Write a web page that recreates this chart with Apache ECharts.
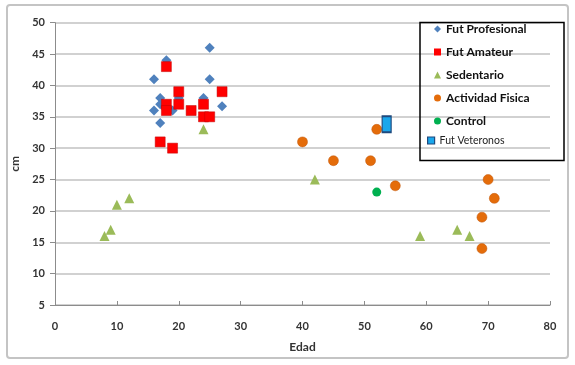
<!DOCTYPE html>
<html>
<head>
<meta charset="utf-8">
<script src="https://cdn.jsdelivr.net/npm/echarts@6/dist/echarts.min.js"></script>
<style>html,body{margin:0;padding:0;background:#fff;}#c{width:575px;height:365px;}</style>
</head>
<body>
<div id="c"></div>
<script>
var xTicks = [0, 10, 20, 30, 40, 50, 60, 70, 80];
var yTicks = [5, 10, 15, 20, 25, 30, 35, 40, 45, 50];
var seriesNames = ['Fut Profesional', 'Fut Amateur', 'Sedentario', 'Actividad Fisica', 'Control', 'Fut Veteronos'];
var futProfesional = [[25,46],[18,44],[16,41],[25,41],[17,38],[17,37],[16,36],[19,36],[24,38],[27,36.7],[17,34],[20,38]];
var futAmateur = [[18,43],[20,39],[20,37],[18,37],[18,36],[22,36],[24,37],[24,35],[25,35],[27,39],[17,31],[19,30]];
var sedentario = [[24,33],[12,22],[10,21],[9,17],[8,16],[42,25],[59,16],[65,17],[67,16]];
var actividadFisica = [[40,31],[52,33],[45,28],[51,28],[55,24],[70,25],[71,22],[69,19],[69,14]];
var control = [[52,23]];
var futVeteronos = [[53.6,33.8]];

var chart = echarts.init(document.getElementById('c'), null, {renderer: 'canvas'});
var font = 'Lato, "Open Sans", sans-serif';
var option = {
  animation: false,
  backgroundColor: '#fff',
  textStyle: {fontFamily: font},
  graphic: [
    {type: 'rect', shape: {x: 7, y: 5, width: 561, height: 353, r: 3}, style: {fill: 'none', stroke: '#c4c4c4', lineWidth: 2}, z: -1},
    {type: 'rect', shape: {x: 420, y: 22.5, width: 144, height: 138}, style: {fill: 'none', stroke: '#000', lineWidth: 1.5}, z: 100}
  ],
  grid: {left: 55, right: 25, top: 22.7, bottom: 60},
  xAxis: {
    type: 'value', min: xTicks[0], max: xTicks[xTicks.length-1], interval: 10,
    name: 'Edad', nameLocation: 'middle', nameGap: 36,
    nameTextStyle: {fontSize: 12, fontWeight: 'bold', color: '#333', fontFamily: font},
    axisLine: {show: true, lineStyle: {color: '#8c8c8c', width: 1}},
    axisTick: {show: true, inside: true, length: 4, lineStyle: {color: '#8c8c8c'}},
    axisLabel: {fontSize: 11, fontWeight: 'bold', color: '#333', margin: 16, fontFamily: font},
    splitLine: {show: false}
  },
  yAxis: {
    type: 'value', min: yTicks[0], max: yTicks[yTicks.length-1], interval: 5,
    name: 'cm', nameLocation: 'middle', nameGap: 22, nameRotate: 90,
    nameTextStyle: {fontSize: 12, fontWeight: 'bold', color: '#333', fontFamily: font},
    axisLine: {show: true, lineStyle: {color: '#8c8c8c', width: 1}},
    axisTick: {show: true, length: 5, lineStyle: {color: '#8c8c8c'}},
    axisLabel: {fontSize: 11, fontWeight: 'bold', color: '#333', margin: 10, fontFamily: font},
    splitLine: {show: true, lineStyle: {color: '#c2c2c2', width: 1.5}}
  },
  legend: [
    {
      orient: 'vertical', left: 434, top: 22, padding: 0, itemGap: 9, itemWidth: 7, itemHeight: 7,
      itemStyle: {borderWidth: 0},
      textStyle: {fontSize: 12, fontWeight: 'bold', color: '#111', lineHeight: 14, fontFamily: font},
      data: [
        {name: seriesNames[0], icon: 'diamond'},
        {name: seriesNames[1], icon: 'rect'},
        {name: seriesNames[2], icon: 'triangle'},
        {name: seriesNames[3], icon: 'circle'},
        {name: seriesNames[4], icon: 'circle'}
      ]
    },
    {
      orient: 'vertical', left: 427, top: 135, padding: 0, itemWidth: 7, itemHeight: 7,
      itemStyle: {borderWidth: 1.2},
      textStyle: {fontSize: 10.5, color: '#222', fontFamily: font},
      data: [{name: seriesNames[5], icon: 'rect'}]
    }
  ],
  series: [
    {name: seriesNames[0], type: 'scatter', data: futProfesional, symbol: 'diamond', symbolSize: 10, itemStyle: {color: '#4f81bd', opacity: 1}},
    {name: seriesNames[1], type: 'scatter', data: futAmateur, symbol: 'rect', symbolSize: 10, itemStyle: {color: '#ff0000', borderColor: '#c00000', borderWidth: 0.5, opacity: 1}},
    {name: seriesNames[2], type: 'scatter', data: sedentario, symbol: 'triangle', symbolSize: 10, itemStyle: {color: '#9bbb59', opacity: 1}},
    {name: seriesNames[3], type: 'scatter', data: actividadFisica, symbol: 'circle', symbolSize: 10, itemStyle: {color: '#e46c0a', borderColor: '#c0560a', borderWidth: 0.5, opacity: 1}},
    {name: seriesNames[4], type: 'scatter', data: control, symbol: 'circle', symbolSize: 9, itemStyle: {color: '#00b050', opacity: 1}},
    {name: seriesNames[5], type: 'scatter', data: futVeteronos, symbol: 'rect', symbolSize: [9, 16], itemStyle: {color: '#1aa7ec', borderColor: '#1f497d', borderWidth: 1.5, opacity: 1}}
  ]
};
chart.setOption(option);
</script>
</body>
</html>
